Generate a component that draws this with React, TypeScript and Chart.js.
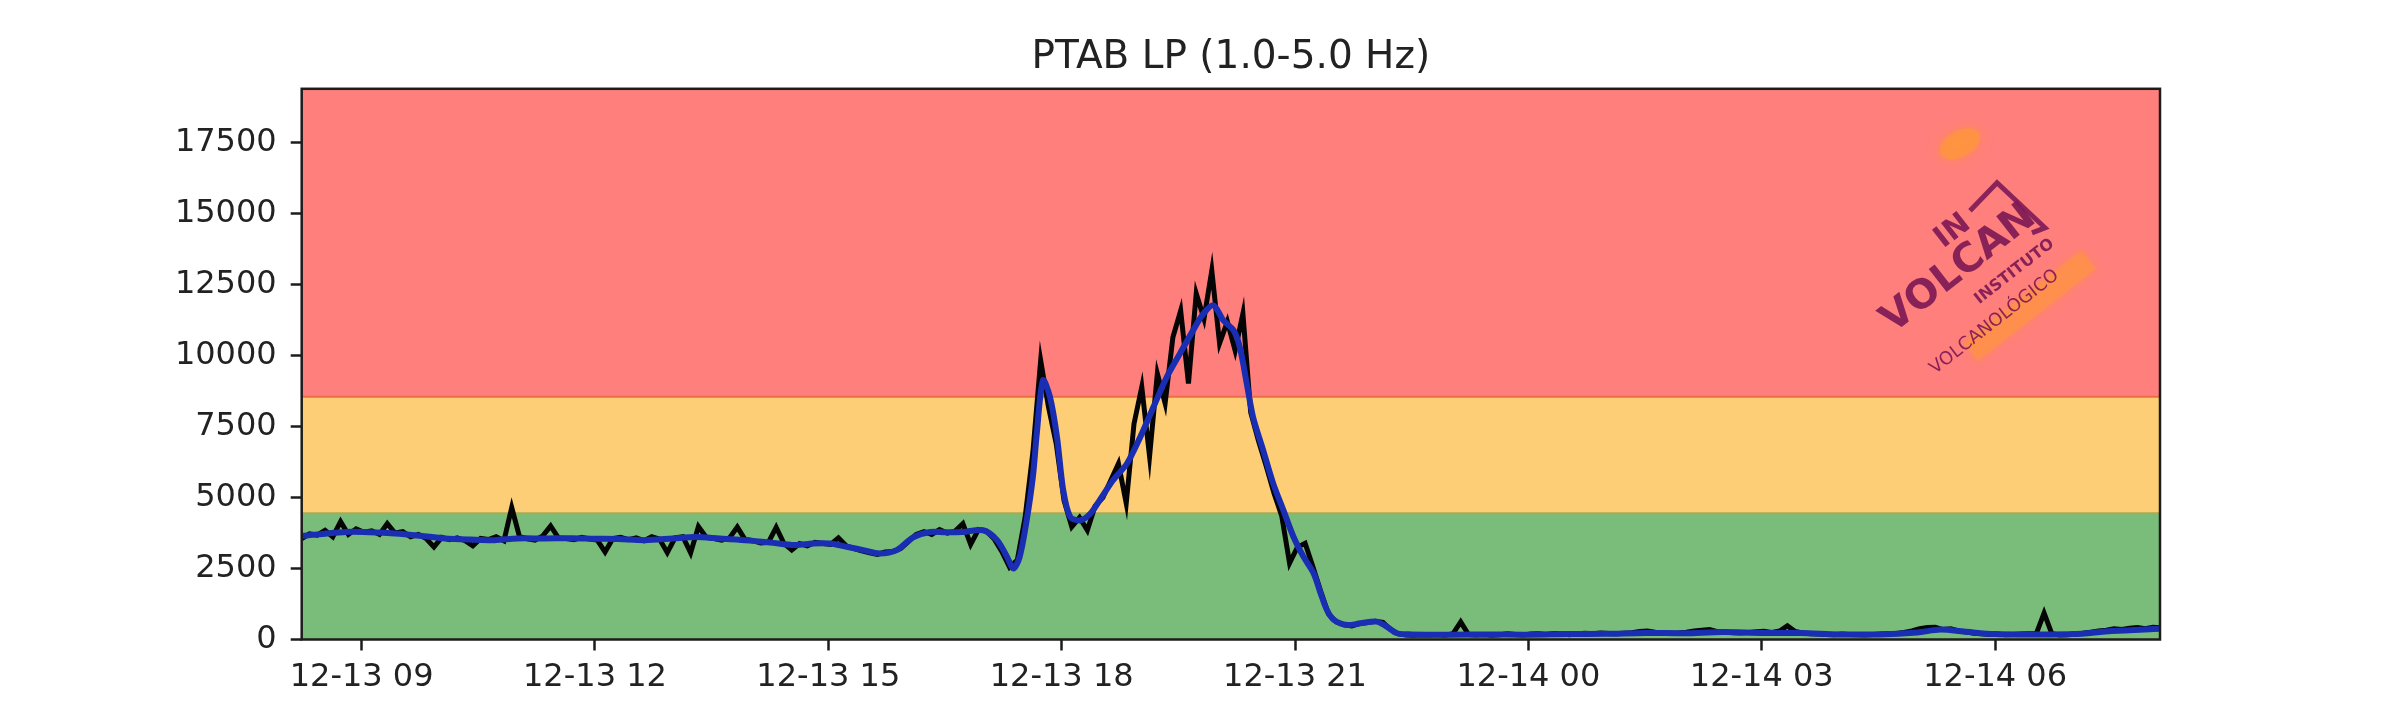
import React, { useEffect, useRef } from "react";
import { Chart, registerables } from "chart.js";

Chart.register(...registerables);

// ---------- data ----------
const TITLE = "PTAB LP (1.0-5.0 Hz)";

// hours counted from 12-13 00:00
const X_MIN = 8.23;
const X_MAX = 32.12;
const X_TICK_HOURS = [9, 12, 15, 18, 21, 24, 27, 30];
const X_TICK_LABELS = [
  "12-13 09",
  "12-13 12",
  "12-13 15",
  "12-13 18",
  "12-13 21",
  "12-14 00",
  "12-14 03",
  "12-14 06",
];

const Y_MIN = 0;
const Y_MAX = 19400;
const Y_TICKS = [0, 2500, 5000, 7500, 10000, 12500, 15000, 17500];

// alert bands (green / yellow / red)
const BAND_EDGES = [0, 4450, 8550, 19400];
const BAND_COLORS = ["rgb(122,189,122)", "rgb(254,206,118)", "rgb(255,127,124)"];
const BAND_EDGE_COLORS = ["rgb(170,170,85)", "rgb(236,108,72)"];

// raw amplitude (black), sampled every 0.1 h from 08:14 on 12-13
const RAW_START = 8.23;
const RAW_STEP = 0.1;
const RAW_VALUES = [
  3550, 3720, 3680, 3850, 3620, 4150, 3700, 3900, 3780, 3830,
  3700, 4080, 3750, 3800, 3620, 3700, 3560, 3260, 3600, 3520,
  3580, 3480, 3300, 3560, 3520, 3620, 3480, 4650, 3620, 3550,
  3500, 3650, 4000, 3580, 3560, 3520, 3600, 3540, 3500, 3080,
  3560, 3600, 3520, 3580, 3480, 3620, 3540, 3060, 3580, 3620,
  3050, 3980, 3600, 3560, 3500, 3580, 3960, 3520, 3480, 3400,
  3420, 3950, 3380, 3150, 3380, 3300, 3420, 3380, 3350, 3580,
  3300, 3200, 3120, 3050, 3000, 3080, 3100, 3200, 3450, 3700,
  3800, 3700, 3870, 3750, 3820, 4080, 3350, 3870, 3820, 3550,
  3100, 2550, 2800, 4300, 6600, 9830, 8200, 6900, 4900, 3970,
  4300, 3850, 4700, 5000, 5600, 6200, 4800, 7600, 8900, 6450,
  9370, 8320, 10650, 11590, 9020, 12190, 11300, 13000, 10430, 11200,
  10180, 11480, 8000, 7000, 6100, 5150, 4340, 2690, 3250, 3390,
  2560, 1700, 900, 620, 520, 480, 560, 600, 640, 600,
  350, 200, 160, 150, 170, 160, 180, 150, 200, 620,
  170, 160, 180, 150, 170, 200, 180, 160, 190, 200,
  180, 210, 190, 170, 200, 220, 200, 230, 210, 200,
  220, 240, 280, 300, 260, 240, 220, 230, 260, 300,
  330, 350, 280, 260, 240, 230, 250, 270, 290, 250,
  300, 480, 280, 230, 200, 190, 180, 170, 190, 180,
  170, 160, 180, 190, 200, 210, 250, 300, 380, 420,
  430, 350, 380, 300, 260, 220, 200, 180, 190, 170,
  180, 190, 200, 210, 930, 200, 160, 170, 200, 220,
  260, 300, 330, 380, 350, 400, 420, 380, 430, 410,
];

// smoothed amplitude (blue)
const SMOOTH_HOURS = [
  8.23, 8.5, 8.8, 9.1, 9.43, 9.8, 10.07, 10.4, 10.71, 11.0,
  11.36, 11.7, 12.0, 12.3, 12.64, 13.0, 13.29, 13.6, 13.93, 14.25,
  14.57, 14.8, 15.02, 15.25, 15.45, 15.66, 15.88, 16.09, 16.31, 16.5,
  16.73, 16.99, 17.17, 17.3, 17.38, 17.46, 17.55, 17.63, 17.68, 17.76,
  17.85, 17.94, 18.02, 18.11, 18.24, 18.37, 18.49, 18.66, 18.84, 19.01,
  19.18, 19.35, 19.52, 19.69, 19.82, 19.95, 20.08, 20.21, 20.29, 20.38,
  20.46, 20.59, 20.72, 20.85, 20.98, 21.11, 21.24, 21.33, 21.41, 21.5,
  21.67, 21.84, 22.05, 22.18, 22.31, 22.5, 23.0, 23.5, 24.0, 24.5,
  25.0, 25.5, 26.0, 26.5, 27.0, 27.5, 28.0, 28.5, 29.0, 29.3,
  29.6, 30.0, 30.5, 31.0, 31.5, 32.12,
];
const SMOOTH_VALUES = [
  3650, 3720, 3790, 3780, 3735, 3640, 3560, 3520, 3500, 3560,
  3560, 3570, 3550, 3540, 3500, 3560, 3610, 3560, 3500, 3420,
  3330, 3380, 3380, 3260, 3150, 3030, 3150, 3600, 3790, 3780,
  3790, 3850, 3500, 2900, 2500, 2910, 4200, 5730, 7250, 9130,
  8540, 7130, 5260, 4320, 4200, 4440, 4910, 5610, 6200, 7130,
  8190, 9240, 10070, 10890, 11470, 11770, 11240, 10890, 10300, 9010,
  7840, 6670, 5490, 4560, 3620, 2910, 2330, 1620, 1040, 690,
  510, 570, 630, 450, 220, 180, 170, 180, 170, 190,
  200, 230, 220, 260, 230, 230, 180, 180, 250, 350,
  280, 190, 180, 190, 300, 380,
];

// ---------- style ----------
const FONT = "'DejaVu Sans', 'Liberation Sans', sans-serif";
const TEXT_COLOR = "#222222";
const FRAME_COLOR = "#1c1c1c";

function drawLogo(ctx: CanvasRenderingContext2D, area: any) {
  const ox = area.right - 267;
  const oy = area.top + 245;
  ctx.save();
  ctx.translate(ox, oy);

  // orange glow (top)
  ctx.fillStyle = "rgba(255,150,60,0.75)";
  ctx.shadowColor = "rgba(255,150,60,0.9)";
  ctx.shadowBlur = 12;
  ctx.beginPath();
  ctx.ellipse(67, -190, 22, 13, -0.5, 0, Math.PI * 2);
  ctx.fill();
  ctx.shadowBlur = 0;

  // house / N outline
  ctx.strokeStyle = "rgba(125,25,85,0.9)";
  ctx.lineWidth = 5;
  ctx.lineJoin = "miter";
  ctx.beginPath();
  ctx.moveTo(77, -123);
  ctx.lineTo(104, -151);
  ctx.lineTo(152, -106);
  ctx.lineTo(139, -101);
  ctx.stroke();

  ctx.rotate((-38 * Math.PI) / 180);

  // orange band behind the lower line
  ctx.fillStyle = "rgba(255,150,60,0.55)";
  ctx.shadowColor = "rgba(255,150,60,0.8)";
  ctx.shadowBlur = 10;
  ctx.fillRect(50, 50, 150, 24);
  ctx.shadowBlur = 0;

  ctx.fillStyle = "rgba(125,25,85,0.92)";
  ctx.textBaseline = "alphabetic";
  ctx.textAlign = "left";
  ctx.font = `bold 40px ${FONT}`;
  ctx.fillText("VOLCAN", 0, 0);
  ctx.font = `bold 30px ${FONT}`;
  ctx.fillText("IN", 92, -36);
  ctx.font = `bold 16px ${FONT}`;
  ctx.fillText("INSTITUTO", 86, 30);
  ctx.font = `18px ${FONT}`;
  ctx.fillText("VOLCANOLÓGICO", 8, 58);
  ctx.restore();
}

const bandsPlugin = {
  id: "bands",
  beforeDatasetsDraw(chart: any) {
    const { ctx, chartArea: a, scales } = chart;
    const y = scales.y;
    ctx.save();
    for (let i = 0; i < BAND_COLORS.length; i++) {
      const p0 = y.getPixelForValue(BAND_EDGES[i]);
      const p1 = y.getPixelForValue(BAND_EDGES[i + 1]);
      ctx.fillStyle = BAND_COLORS[i];
      ctx.fillRect(a.left, p1, a.right - a.left, p0 - p1);
    }
    for (let i = 1; i < BAND_EDGES.length - 1; i++) {
      const p = y.getPixelForValue(BAND_EDGES[i]);
      ctx.strokeStyle = BAND_EDGE_COLORS[i - 1];
      ctx.lineWidth = 2;
      ctx.beginPath();
      ctx.moveTo(a.left, p);
      ctx.lineTo(a.right, p);
      ctx.stroke();
    }
    drawLogo(ctx, a);
    ctx.restore();
  },
  afterDatasetsDraw(chart: any) {
    const { ctx, chartArea: a } = chart;
    ctx.save();
    ctx.strokeStyle = FRAME_COLOR;
    ctx.lineWidth = 2.5;
    ctx.strokeRect(a.left, a.top, a.right - a.left, a.bottom - a.top);
    ctx.restore();
  },
};

export default function App() {
  const canvasRef = useRef<HTMLCanvasElement | null>(null);

  useEffect(() => {
    const canvas = canvasRef.current;
    if (!canvas) return;
    const rawPoints = RAW_VALUES.map((v, i) => ({ x: RAW_START + i * RAW_STEP, y: v }));
    const smoothPoints = SMOOTH_VALUES.map((v, i) => ({ x: SMOOTH_HOURS[i], y: v }));

    const chart = new Chart(canvas, {
      type: "line",
      data: {
        datasets: [
          {
            label: "raw",
            data: rawPoints,
            borderColor: "#050505",
            borderWidth: 5,
            pointRadius: 0,
            tension: 0,
            order: 2,
            clip: 0,
          } as any,
          {
            label: "smoothed",
            data: smoothPoints,
            borderColor: "rgb(26,46,180)",
            borderWidth: 6,
            pointRadius: 0,
            tension: 0.3,
            order: 1,
            clip: 0,
          } as any,
        ],
      },
      options: {
        animation: false,
        responsive: false,
        devicePixelRatio: 1,
        parsing: false as any,
        normalized: true,
        layout: { padding: { top: 0, left: 0, right: 240, bottom: 0 } },
        plugins: {
          legend: { display: false },
          tooltip: { enabled: false },
          title: {
            display: true,
            text: TITLE,
            fullSize: false,
            color: TEXT_COLOR,
            font: { family: FONT, size: 39, weight: "normal" as any, lineHeight: 1.2 },
            padding: { top: 34, bottom: 8 },
          },
        },
        scales: {
          x: {
            type: "linear",
            min: X_MIN,
            max: X_MAX,
            afterBuildTicks: (scale: any) => {
              scale.ticks = X_TICK_HOURS.map((v) => ({ value: v }));
            },
            afterFit: (scale: any) => {
              scale.height = 80.5;
            },
            ticks: {
              autoSkip: false,
              maxRotation: 0,
              minRotation: 0,
              padding: 8,
              color: TEXT_COLOR,
              font: { family: FONT, size: 32 },
              callback: (_v: any, i: number) => X_TICK_LABELS[i],
            },
            grid: {
              drawOnChartArea: false,
              drawTicks: true,
              tickLength: 11,
              tickWidth: 2.5,
              tickColor: FRAME_COLOR,
            },
            border: { display: false },
          },
          y: {
            type: "linear",
            min: Y_MIN,
            max: Y_MAX,
            afterBuildTicks: (scale: any) => {
              scale.ticks = Y_TICKS.map((v) => ({ value: v }));
            },
            afterFit: (scale: any) => {
              scale.width = 301.7;
            },
            ticks: {
              padding: 14,
              color: TEXT_COLOR,
              font: { family: FONT, size: 32 },
              callback: (v: any) => String(v),
            },
            grid: {
              drawOnChartArea: false,
              drawTicks: true,
              tickLength: 11,
              tickWidth: 2.5,
              tickColor: FRAME_COLOR,
            },
            border: { display: false },
          },
        },
      },
      plugins: [bandsPlugin],
    });
    return () => chart.destroy();
  }, []);

  return (
    <div
      style={{
        position: "fixed",
        left: 0,
        top: 0,
        width: 2400,
        height: 720,
        background: "#ffffff",
      }}
    >
      <canvas ref={canvasRef} width={2400} height={720} style={{ display: "block", width: 2400, height: 720 }} />
    </div>
  );
}
